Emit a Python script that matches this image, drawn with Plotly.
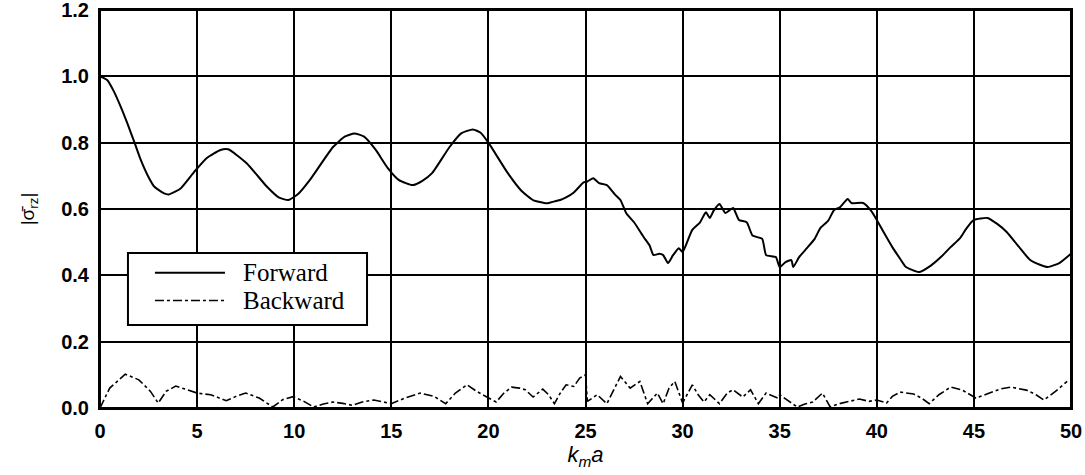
import plotly.graph_objects as go

# Forward curve (k_m a, |sigma_rz|)
fwd_x = [0, 0.37, 0.72, 1.07, 1.41, 1.76, 2.1, 2.45, 2.8, 3.3, 3.55, 4.15, 4.85, 5.5, 6.2, 6.6, 7.55, 8.6, 9.2, 9.7,
         10.2, 10.8, 12.0, 12.6, 13.1, 13.6, 14.2, 14.8, 15.4, 16.1, 16.6, 17.1, 18.0, 18.6, 19.2, 19.6,
         20.0, 21.0, 21.7, 22.3, 23.0, 23.4, 23.7, 24.0, 24.4, 24.9, 25.1, 25.4, 25.7, 26.1, 26.5, 26.8,
         27.1, 27.5, 28.0, 28.3, 28.5, 28.8, 29.0, 29.25, 29.5, 29.8, 30.0, 30.3, 30.5, 30.9, 31.2, 31.4,
         31.6, 31.9, 32.2, 32.6, 32.9, 33.3, 33.6, 34.1, 34.3, 34.8, 35.0, 35.3, 35.6, 35.7, 36.0, 36.4,
         36.8, 37.1, 37.5, 37.8, 38.1, 38.5, 38.7, 39.3, 39.7, 40.0, 40.4, 40.8, 41.2, 41.5, 42.2, 42.8,
         43.3, 43.8, 44.3, 44.6, 45.0, 45.7, 46.2, 46.7, 47.3, 47.9, 48.4, 48.8, 49.4, 50.0]
fwd_y = [1.0, 0.989, 0.954, 0.908, 0.858, 0.803, 0.748, 0.702, 0.667, 0.647, 0.644, 0.662, 0.712, 0.754, 0.778, 0.78, 0.738, 0.667, 0.635, 0.627,
         0.645, 0.687, 0.787, 0.818, 0.828, 0.818, 0.778, 0.725, 0.687, 0.672, 0.685, 0.708, 0.787, 0.828, 0.84, 0.83,
         0.80, 0.708, 0.655, 0.627, 0.617, 0.623, 0.627, 0.635, 0.65, 0.68, 0.683, 0.693, 0.678, 0.672, 0.645, 0.627,
         0.587, 0.56, 0.515, 0.49, 0.461, 0.465, 0.461, 0.437, 0.46, 0.482, 0.47, 0.51, 0.537, 0.56, 0.59, 0.573,
         0.595, 0.615, 0.588, 0.603, 0.567, 0.56, 0.52, 0.51, 0.461, 0.455, 0.425, 0.44, 0.446, 0.425, 0.455, 0.482,
         0.51, 0.543, 0.565, 0.597, 0.605, 0.63, 0.618, 0.618, 0.595, 0.567, 0.525, 0.485, 0.45, 0.425, 0.41, 0.43,
         0.455, 0.485, 0.513, 0.54, 0.567, 0.573, 0.555, 0.53, 0.487, 0.446, 0.432, 0.425, 0.437, 0.465]

# Backward curve
bwd_x = [0, 0.5, 1.3, 2.0, 2.6, 3.0, 3.4, 3.9, 4.5, 5.0, 5.7, 6.5, 7.0, 7.5, 8.2, 8.9, 9.4, 9.95, 10.5, 11.0,
         11.5, 12.0, 12.5, 13.0, 13.5, 14.1, 14.6, 15.0, 15.7, 16.5, 17.2, 17.8, 18.3, 18.9, 19.4, 19.9, 20.4,
         20.8, 21.2, 21.6, 21.9, 22.3, 22.8, 23.1, 23.4, 23.7, 24.0, 24.4, 24.7, 25.0, 25.1, 25.6, 26.1, 26.5,
         26.8, 27.3, 27.8, 28.2, 28.7, 29.0, 29.3, 29.6, 30.0, 30.5, 30.8, 31.1, 31.4, 31.9, 32.3, 32.6, 33.1,
         33.5, 33.9, 34.3, 34.9, 35.0, 35.5, 35.9, 36.3, 36.7, 37.2, 37.6, 38.0, 38.5, 39.1, 39.6, 40.0, 40.5,
         40.8, 41.2, 41.9, 42.3, 42.7, 43.2, 43.8, 44.4, 45.1, 45.8, 46.4, 46.9, 47.7, 48.2, 48.6, 49.2, 49.8]
bwd_y = [0.0, 0.06, 0.102, 0.085, 0.05, 0.015, 0.05, 0.066, 0.055, 0.045, 0.04, 0.022, 0.035, 0.045, 0.03, 0.003, 0.025, 0.034, 0.02, 0.003,
         0.012, 0.018, 0.014, 0.008, 0.018, 0.024, 0.018, 0.013, 0.03, 0.045, 0.035, 0.013, 0.045, 0.07, 0.05, 0.033, 0.018,
         0.045, 0.063, 0.06, 0.055, 0.033, 0.057, 0.04, 0.013, 0.045, 0.07, 0.065, 0.09, 0.1, 0.02, 0.04, 0.013, 0.06,
         0.095, 0.06, 0.08, 0.013, 0.045, 0.013, 0.06, 0.08, 0.015, 0.07, 0.04, 0.018, 0.04, 0.013, 0.045, 0.055, 0.033,
         0.055, 0.013, 0.045, 0.03, 0.04, 0.02, 0.003, 0.012, 0.018, 0.045, 0.003, 0.012, 0.018, 0.027, 0.02, 0.024, 0.015,
         0.035, 0.048, 0.042, 0.03, 0.013, 0.04, 0.063, 0.054, 0.03, 0.045, 0.058, 0.063, 0.054, 0.04, 0.024, 0.05, 0.08]

x_ticks = [0, 5, 10, 15, 20, 25, 30, 35, 40, 45, 50]
y_ticks = [0.0, 0.2, 0.4, 0.6, 0.8, 1.0, 1.2]
y_tick_labels = ["0.0", "0.2", "0.4", "0.6", "0.8", "1.0", "1.2"]
series_names = ["Forward", "Backward"]
series_dash = ["solid", "dashdot"]
series_width = [2, 1.6]

fig = go.Figure()
fig.add_trace(go.Scatter(x=fwd_x, y=fwd_y, mode="lines", name=series_names[0], showlegend=False,
                         line=dict(color="black", width=series_width[0], shape="spline", smoothing=0.5)))
fig.add_trace(go.Scatter(x=bwd_x, y=bwd_y, mode="lines", name=series_names[1], showlegend=False,
                         line=dict(color="black", width=series_width[1], dash="dashdot")))

# Plot frame
fig.add_shape(type="rect", xref="paper", yref="paper", x0=0, x1=1, y0=0, y1=1,
              line=dict(color="black", width=2), layer="above")

# Legend box drawn in paper coordinates
fig.add_shape(type="rect", xref="paper", yref="paper", x0=0.0288, x1=0.275, y0=0.2085, y1=0.3894,
              line=dict(color="black", width=2), fillcolor="white", layer="above")
leg_y = [0.340, 0.270]
for name, dash, w, yy in zip(series_names, series_dash, series_width, leg_y):
    fig.add_shape(type="line", xref="paper", yref="paper", x0=0.0566, x1=0.1287, y0=yy, y1=yy,
                  line=dict(color="black", width=w, dash=dash), layer="above")
    fig.add_annotation(xref="paper", yref="paper", x=0.1452, y=yy, xanchor="left", yanchor="middle",
                       text=name, showarrow=False,
                       font=dict(family="Liberation Serif, Times New Roman, serif", size=25, color="black"))

tickfont = dict(family="Liberation Sans, Arial, sans-serif", size=20, color="black", weight="bold")
fig.update_layout(
    width=1085, height=475,
    margin=dict(l=100, r=14, t=10, b=67),
    paper_bgcolor="white", plot_bgcolor="white",
    showlegend=False,
    xaxis=dict(range=[0, 50], tickvals=x_ticks, ticks="", showgrid=True, gridcolor="black", gridwidth=1.5,
               showline=True, linecolor="black", linewidth=2, mirror=True, zeroline=False,
               tickfont=tickfont, ticklabelstandoff=4, automargin=False, ticklabeloverflow="allow",
               title=dict(text="<i>k</i><sub><i>m</i></sub><i>a</i>", standoff=2,
                          font=dict(family="Liberation Sans, Arial, sans-serif", size=22, color="black"))),
    yaxis=dict(range=[0, 1.2], tickvals=y_ticks, ticktext=y_tick_labels, ticks="", showgrid=True,
               gridcolor="black", gridwidth=1.5,
               showline=True, linecolor="black", linewidth=2, mirror=True, zeroline=False,
               tickfont=tickfont, ticklabelstandoff=5, automargin=False, ticklabeloverflow="allow",
               title=dict(text="|σ\u0304<sub>rz</sub>|", standoff=22,
                          font=dict(family="Liberation Sans, Arial, sans-serif", size=19, color="black"))),
)

fig.write_html("out.html")
